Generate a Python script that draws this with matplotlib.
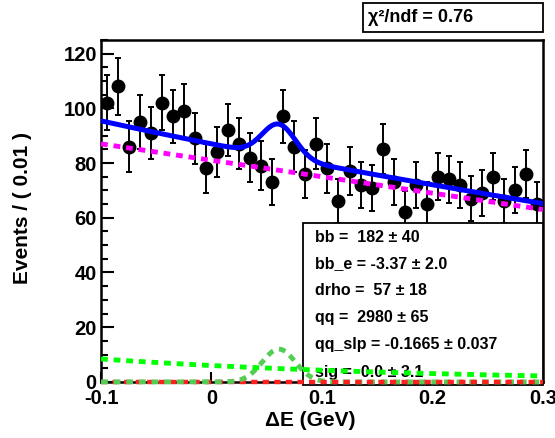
import numpy as np
import matplotlib
matplotlib.use("Agg")
import matplotlib.pyplot as plt
from matplotlib.patches import Rectangle

# ---- data ----
bin_centers = np.arange(40) * 0.01 - 0.095
counts = [102, 108, 86, 95, 91, 102, 97, 99, 89, 78,
          84, 92, 87, 82, 79, 73, 97, 86, 76, 87,
          78, 66, 77, 72, 71, 85, 73, 62, 72, 65,
          75, 74, 72, 67, 69, 75, 66, 70, 76, 65]
errors = [10.1, 10.4, 9.3, 9.7, 9.5, 10.1, 9.8, 9.9, 9.4, 8.8,
          9.2, 9.6, 9.3, 9.1, 8.9, 8.5, 9.8, 9.3, 8.7, 9.3,
          8.8, 8.1, 8.8, 8.5, 8.4, 9.2, 8.5, 7.9, 8.5, 8.1,
          8.7, 8.6, 8.5, 8.2, 8.3, 8.7, 8.1, 8.4, 8.7, 8.1]

# fit components (shape parameters)
qq_start, qq_end = 87.0, 63.0          # continuum, linear
bb_start, bb_e = 8.4, -3.37            # B-bbar, exponential
drho_height, drho_mean, drho_sigma = 12.0, 0.061, 0.015
sig_height = 0.0

x_min, x_max = -0.1, 0.3
x_ticks = [-0.1, 0, 0.1, 0.2, 0.3]
x_tick_labels = ["-0.1", "0", "0.1", "0.2", "0.3"]
y_ticks = [0, 20, 40, 60, 80, 100, 120]

param_lines = [
    "bb =  182 \u00b1 40",
    "bb_e = -3.37 \u00b1 2.0",
    "drho =  57 \u00b1 18",
    "qq =  2980 \u00b1 65",
    "qq_slp = -0.1665 \u00b1 0.037",
    "sig =  0.0 \u00b1 3.1",
]
chi2_text = "\u03c7\u00b2/ndf = 0.76"

# ---- model curves ----
x = np.linspace(x_min, x_max, 500)
qq = qq_start + (qq_end - qq_start) * (x - x_min) / (x_max - x_min)
bb = bb_start * np.exp(bb_e * (x - x_min))
drho = drho_height * np.exp(-0.5 * ((x - drho_mean) / drho_sigma) ** 2)
sig = np.full_like(x, sig_height)
total = qq + bb + drho + sig

plt.rcParams["font.family"] = ["Liberation Sans", "DejaVu Sans"]
plt.rcParams["font.weight"] = "bold"

fig = plt.figure(figsize=(5.55, 4.38), dpi=100)
ax = fig.add_axes([0.182, 0.128, 0.796, 0.781])

ax.errorbar(bin_centers, counts, yerr=errors, fmt="o", color="black",
            markersize=9, elinewidth=1.4, capsize=2, capthick=1.4, zorder=2)

# parameter box (drawn over the data, under the curves)
ax.add_patch(Rectangle((0.457, -0.009), 0.543, 0.474, transform=ax.transAxes,
                       facecolor="white", edgecolor="black", linewidth=1.3,
                       clip_on=False, zorder=3))
line_y = [0.421, 0.345, 0.266, 0.187, 0.108, 0.029]
for txt, yy in zip(param_lines, line_y):
    ax.text(0.484, yy, txt, transform=ax.transAxes, fontsize=11.5,
            fontweight="bold", va="center", ha="left", zorder=3.5)

dash = (0, (1.4, 1.2))
left = x <= drho_mean
right = x >= drho_mean
# drho: left half above the red line, right half below it
ax.plot(x[right], drho[right], color="#55cc55", lw=3.5, linestyle=dash,
        zorder=3.9, clip_on=False)
ax.plot(x, sig, color="#ff2020", lw=3.2, linestyle=dash, zorder=4,
        clip_on=False)
ax.plot(x[left], drho[left], color="#55cc55", lw=3.5, linestyle=dash,
        zorder=4.1, clip_on=False)
ax.plot(x, bb, color="#00ff00", lw=3.5, linestyle=dash, zorder=4.2)
ax.plot(x, qq, color="#ff00ff", lw=3.5, linestyle=dash, zorder=4.3)
ax.plot(x, total, color="#0000ff", lw=3.6, zorder=4.4)

ax.set_xlim(x_min, x_max)
ax.set_ylim(0, 125)
ax.set_xticks(x_ticks)
ax.set_xticklabels(x_tick_labels)
ax.set_yticks(y_ticks)
ax.set_yticks(np.arange(0, 126, 5), minor=True)
ax.tick_params(axis="both", which="both", direction="in", labelsize=14.5,
               top=False, right=False)
ax.tick_params(axis="y", which="major", length=9, width=1.5, pad=3)
ax.tick_params(axis="y", which="minor", length=5, width=1.5)
ax.tick_params(axis="x", which="major", length=7, width=1.5, pad=5)
ax.tick_params(axis="x", which="minor", length=0)
for lab in ax.get_xticklabels() + ax.get_yticklabels():
    lab.set_fontweight("bold")
for sp in ax.spines.values():
    sp.set_linewidth(1.8)

fig.text(23 / 555, 1 - 208 / 438, "Events / ( 0.01 )", rotation=90,
         fontsize=15, fontweight="bold", ha="center", va="center")
fig.text(310 / 555, 1 - 421 / 438, "\u0394E (GeV)", fontsize=15,
         fontweight="bold", ha="center", va="center")

# chi2 box
fig.patches.append(Rectangle((363 / 555, 1 - 32 / 438), 180 / 555, 29 / 438,
                             transform=fig.transFigure, facecolor="white",
                             edgecolor="black", linewidth=1.3))
fig.text(368 / 555, 1 - 18 / 438, chi2_text, fontsize=13, fontweight="bold",
         ha="left", va="center")

fig.savefig("out.png", dpi=100)
